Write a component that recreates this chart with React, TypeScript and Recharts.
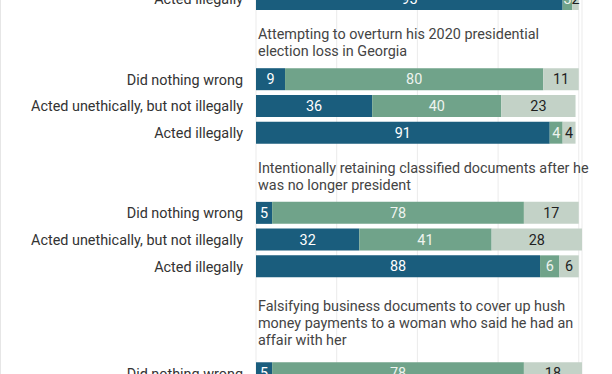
import React from 'react';
import { Bar, BarChart, CartesianGrid, XAxis, YAxis, LabelList } from 'recharts';

// answer options shown on the left of each bar
const answers = ['Did nothing wrong', 'Acted unethically, but not illegally', 'Acted illegally'];

// topic titles, already broken into lines as in the original (first one is above the crop)
const topicTitles: string[][] = [
  [],
  ['Attempting to overturn his 2020 presidential', 'election loss in Georgia'],
  ['Intentionally retaining classified documents after he', 'was no longer president'],
  ['Falsifying business documents to cover up hush', 'money payments to a woman who said he had an', 'affair with her'],
];

// which answers are visible for each topic (index into answers)
const topicAnswers = [[2], [0, 1, 2], [0, 1, 2], [0]];

const seriesNames = ['Guilty', 'Not guilty', 'Not sure'];
const guilty = [95, 9, 36, 91, 5, 32, 88, 5];
const notGuilty = [3, 80, 40, 4, 78, 41, 6, 78];
const notSure = [2, 11, 23, 4, 17, 28, 6, 18];

const colors = ['#1a5d7d', '#70a38a', '#c3d2c7'];
const labelColors = ['#ffffff', '#eef3ef', '#1f1f1f'];

const PLOT_LEFT = 256;
const PLOT_RIGHT = 582;
const CHART_W = 612;
const CHART_H = 401;
const FONT = 'Roboto, "Noto Sans", sans-serif';
const FS = 14.4;

type Row = {
  id: string;
  kind: 'bar' | 'title' | 'spacer';
  label: string;
  lines?: string[];
  [k: string]: any;
};

const rows: Row[] = [];
let barIdx = 0;
topicTitles.forEach((lines, t) => {
  lines.forEach((_, i) => {
    rows.push({ id: `t${t}-h${i}`, kind: i === 0 ? 'title' : 'spacer', label: '', lines: i === 0 ? lines : undefined });
  });
  topicAnswers[t].forEach((a) => {
    rows.push({
      id: `t${t}-a${a}`,
      kind: 'bar',
      label: answers[a],
      [seriesNames[0]]: guilty[barIdx],
      [seriesNames[1]]: notGuilty[barIdx],
      [seriesNames[2]]: notSure[barIdx],
    });
    barIdx++;
  });
});

const ROW_H = CHART_H / rows.length;

const RowTick = (props: any) => {
  const { y, payload } = props;
  const row = rows.find((r) => r.id === payload.value);
  if (!row) return null;
  if (row.kind === 'bar') {
    return (
      <text x={PLOT_LEFT - 13} y={y} dy="0.35em" textAnchor="end" fill="#333" fontSize={FS} fontFamily={FONT}>
        {row.label}
      </text>
    );
  }
  if (row.kind === 'title' && row.lines) {
    const n = row.lines.length;
    const center = y + ((n - 1) * ROW_H) / 2 + 3;
    const lineH = 17;
    const start = center - ((n - 1) * lineH) / 2;
    return (
      <g>
        {row.lines.map((ln, i) => (
          <text key={i} x={PLOT_LEFT + 2} y={start + i * lineH} dy="0.35em" fill="#444" fontSize={FS} fontFamily={FONT}>
            {ln}
          </text>
        ))}
      </g>
    );
  }
  return null;
};

const fmt = (v: any) => (v === undefined || v === null ? '' : v);

export default function App() {
  return (
    <div
      style={{
        position: 'absolute',
        left: 0,
        top: 0,
        width: CHART_W,
        height: 374,
        overflow: 'hidden',
        background: '#fff',
        fontFamily: FONT,
      }}
    >
      <div style={{ position: 'absolute', left: 0, top: 0, width: 1, height: 374, background: '#e6e6e6' }} />
      <div style={{ marginTop: -14 }}>
        <BarChart
          width={CHART_W}
          height={CHART_H}
          data={rows}
          layout="vertical"
          margin={{ top: 0, right: CHART_W - PLOT_RIGHT, bottom: 0, left: 0 }}
          barSize={22}
        >
          <CartesianGrid horizontal={false} stroke="#ebebeb" />
          <XAxis type="number" domain={[0, 100]} ticks={[0, 25, 50, 75, 100]} hide />
          <YAxis
            type="category"
            dataKey="id"
            width={PLOT_LEFT}
            axisLine={false}
            tickLine={false}
            tick={<RowTick />}
            interval={0}
          />
          {seriesNames.map((s, i) => (
            <Bar key={s} dataKey={s} stackId="a" fill={colors[i]} isAnimationActive={false}>
              <LabelList
                dataKey={s}
                position="center"
                formatter={fmt}
                fill={labelColors[i]}
                fontSize={FS}
                fontFamily={FONT}
              />
            </Bar>
          ))}
        </BarChart>
      </div>
    </div>
  );
}
